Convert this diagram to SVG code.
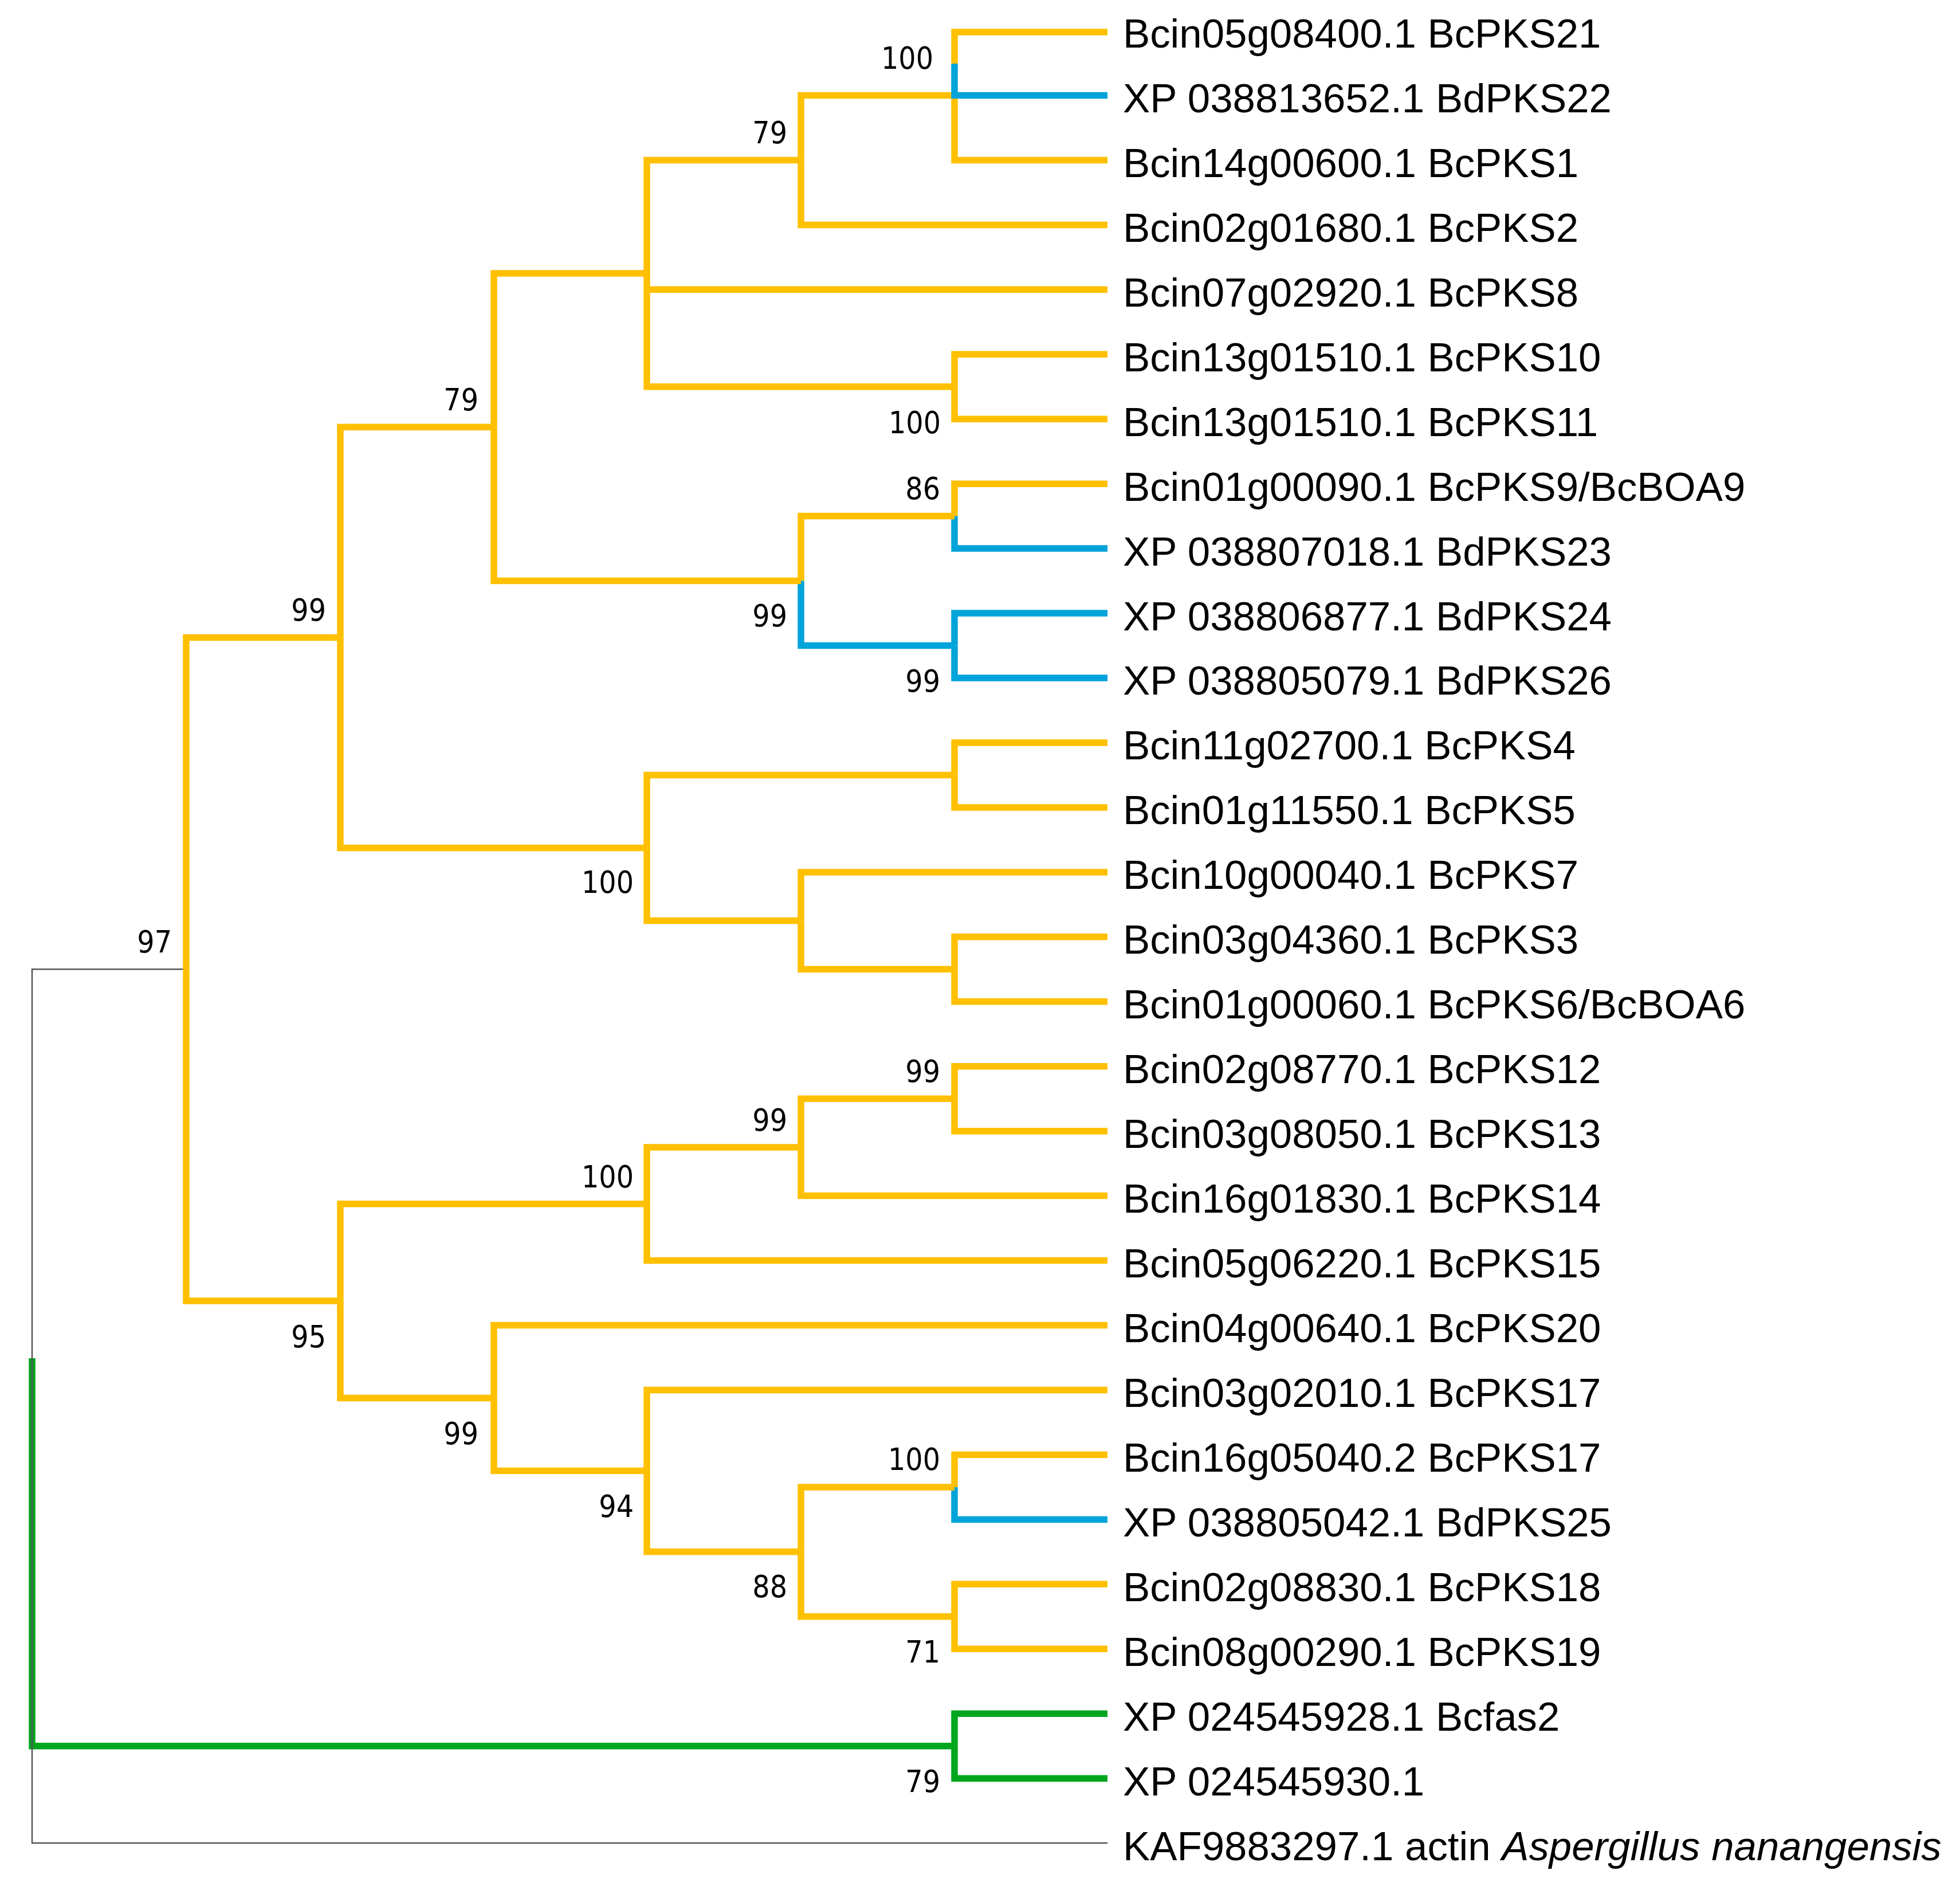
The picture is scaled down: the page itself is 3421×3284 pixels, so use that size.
<svg xmlns="http://www.w3.org/2000/svg" width="3421" height="3284" viewBox="0 0 3421 3284">
<style>
.br{fill:none;stroke-width:11.5;stroke-linejoin:miter;stroke-linecap:butt}
.y{stroke:#FFC000}.b{stroke:#00A3DA}.g{stroke:#00A61E}
.rt{fill:none;stroke:#555;stroke-width:2.5}
.leaf{font-family:'Liberation Sans',Arial,sans-serif;font-size:70.8px;fill:#000}
.bs{font-family:'DejaVu Sans Condensed','DejaVu Sans',sans-serif;font-stretch:condensed;font-size:53px;text-anchor:end;fill:#000}
</style>
<rect width="3421" height="3284" fill="#fff"/>
<g id="connectors">
<path class="br g" d="M56 2370V3046.7H1666"/>
<path class="br g" d="M1666 3046.7V2990.2H1933"/>
<path class="br g" d="M1666 3046.7V3103.2H1933"/>
<path class="rt" d="M325 1691.3H56V3216.1H1933"/>
<path class="br y" d="M1398 279.4V166.5H1666"/>
<path class="br y" d="M1666 111V56H1933"/>
<path class="br y" d="M1666 166.5V279.4H1933"/>
<path class="br b" d="M1666 111V166.5H1933"/>
<path class="br y" d="M1398 279.4V392.4H1933"/>
<path class="br y" d="M1666 674.7V618.3H1933"/>
<path class="br y" d="M1666 674.7V731.2H1933"/>
<path class="br y" d="M1129 477V279.4H1398"/>
<path class="br y" d="M1129 505.3H1933"/>
<path class="br y" d="M1129 477V674.7H1666"/>
<path class="br y" d="M1666 900.6V844.2H1933"/>
<path class="br b" d="M1666 900.6V957.1H1933"/>
<path class="br b" d="M1666 1126.5V1070.1H1933"/>
<path class="br b" d="M1666 1126.5V1183H1933"/>
<path class="br y" d="M1398 1013.6V900.6H1666"/>
<path class="br b" d="M1398 1013.6V1126.5H1666"/>
<path class="br y" d="M862 745.3V477H1129"/>
<path class="br y" d="M862 745.3V1013.6H1398"/>
<path class="br y" d="M1666 1352.4V1296H1933"/>
<path class="br y" d="M1666 1352.4V1408.9H1933"/>
<path class="br y" d="M1666 1691.3V1634.8H1933"/>
<path class="br y" d="M1666 1691.3V1747.8H1933"/>
<path class="br y" d="M1398 1606.6V1521.9H1933"/>
<path class="br y" d="M1398 1606.6V1691.3H1666"/>
<path class="br y" d="M1129 1479.5V1352.4H1666"/>
<path class="br y" d="M1129 1479.5V1606.6H1398"/>
<path class="br y" d="M594 1112.4V745.3H862"/>
<path class="br y" d="M594 1112.4V1479.5H1129"/>
<path class="br y" d="M1666 1917.2V1860.7H1933"/>
<path class="br y" d="M1666 1917.2V1973.7H1933"/>
<path class="br y" d="M1398 2001.9V1917.2H1666"/>
<path class="br y" d="M1398 2001.9V2086.6H1933"/>
<path class="br y" d="M1129 2100.7V2001.9H1398"/>
<path class="br y" d="M1129 2100.7V2199.6H1933"/>
<path class="br y" d="M1666 2594.9V2538.4H1933"/>
<path class="br b" d="M1666 2594.9V2651.4H1933"/>
<path class="br y" d="M1666 2820.8V2764.3H1933"/>
<path class="br y" d="M1666 2820.8V2877.3H1933"/>
<path class="br y" d="M1398 2707.8V2594.9H1666"/>
<path class="br y" d="M1398 2707.8V2820.8H1666"/>
<path class="br y" d="M1129 2566.6V2425.5H1933"/>
<path class="br y" d="M1129 2566.6V2707.8H1398"/>
<path class="br y" d="M862 2439.6V2312.5H1933"/>
<path class="br y" d="M862 2439.6V2566.6H1129"/>
<path class="br y" d="M594 2270.1V2100.7H1129"/>
<path class="br y" d="M594 2270.1V2439.6H862"/>
<path class="br y" d="M325 1691.3V1112.4H594"/>
<path class="br y" d="M325 1691.3V2270.1H594"/>
</g>
<g id="leaves" class="leaf">
<g id="leaf1"><text x="1960" y="83">Bcin05g08400.1 BcPKS21</text></g>
<g id="leaf2"><text x="1960" y="196">XP 038813652.1 BdPKS22</text></g>
<g id="leaf3"><text x="1960" y="309">Bcin14g00600.1 BcPKS1</text></g>
<g id="leaf4"><text x="1960" y="422">Bcin02g01680.1 BcPKS2</text></g>
<g id="leaf5"><text x="1960" y="535">Bcin07g02920.1 BcPKS8</text></g>
<g id="leaf6"><text x="1960" y="648">Bcin13g01510.1 BcPKS10</text></g>
<g id="leaf7"><text x="1960" y="761">Bcin13g01510.1 BcPKS11</text></g>
<g id="leaf8"><text x="1960" y="874">Bcin01g00090.1 BcPKS9/BcBOA9</text></g>
<g id="leaf9"><text x="1960" y="987">XP 038807018.1 BdPKS23</text></g>
<g id="leaf10"><text x="1960" y="1100">XP 038806877.1 BdPKS24</text></g>
<g id="leaf11"><text x="1960" y="1212">XP 038805079.1 BdPKS26</text></g>
<g id="leaf12"><text x="1960" y="1325">Bcin11g02700.1 BcPKS4</text></g>
<g id="leaf13"><text x="1960" y="1438">Bcin01g11550.1 BcPKS5</text></g>
<g id="leaf14"><text x="1960" y="1551">Bcin10g00040.1 BcPKS7</text></g>
<g id="leaf15"><text x="1960" y="1664">Bcin03g04360.1 BcPKS3</text></g>
<g id="leaf16"><text x="1960" y="1777">Bcin01g00060.1 BcPKS6/BcBOA6</text></g>
<g id="leaf17"><text x="1960" y="1890">Bcin02g08770.1 BcPKS12</text></g>
<g id="leaf18"><text x="1960" y="2003">Bcin03g08050.1 BcPKS13</text></g>
<g id="leaf19"><text x="1960" y="2116">Bcin16g01830.1 BcPKS14</text></g>
<g id="leaf20"><text x="1960" y="2229">Bcin05g06220.1 BcPKS15</text></g>
<g id="leaf21"><text x="1960" y="2342">Bcin04g00640.1 BcPKS20</text></g>
<g id="leaf22"><text x="1960" y="2455">Bcin03g02010.1 BcPKS17</text></g>
<g id="leaf23"><text x="1960" y="2568">Bcin16g05040.2 BcPKS17</text></g>
<g id="leaf24"><text x="1960" y="2681">XP 038805042.1 BdPKS25</text></g>
<g id="leaf25"><text x="1960" y="2794">Bcin02g08830.1 BcPKS18</text></g>
<g id="leaf26"><text x="1960" y="2907">Bcin08g00290.1 BcPKS19</text></g>
<g id="leaf27"><text x="1960" y="3020">XP 024545928.1 Bcfas2</text></g>
<g id="leaf28"><text x="1960" y="3133">XP 024545930.1</text></g>
<g id="leaf29"><text x="1960" y="3246">KAF9883297.1 actin <tspan font-style="italic">Aspergillus nanangensis</tspan></text></g>
</g>
<g id="support" class="bs">
<g id="nodeA"><text x="1629" y="120">100</text></g>
<g id="nodeB"><text x="1374" y="250">79</text></g>
<g id="nodeC"><text x="1642" y="756">100</text></g>
<g id="nodeE"><text x="1641" y="871">86</text></g>
<g id="nodeF"><text x="1641" y="1207">99</text></g>
<g id="nodeG"><text x="1374" y="1093">99</text></g>
<g id="nodeH"><text x="835" y="716">79</text></g>
<g id="nodeL"><text x="1106" y="1558">100</text></g>
<g id="nodeM"><text x="569" y="1083">99</text></g>
<g id="nodeN"><text x="1641" y="1888">99</text></g>
<g id="nodeO"><text x="1374" y="1973">99</text></g>
<g id="nodeP"><text x="1106" y="2072">100</text></g>
<g id="nodeQ"><text x="1641" y="2565">100</text></g>
<g id="nodeR"><text x="1641" y="2901">71</text></g>
<g id="nodeS"><text x="1374" y="2787">88</text></g>
<g id="nodeT"><text x="1106" y="2647">94</text></g>
<g id="nodeU"><text x="835" y="2520">99</text></g>
<g id="nodeV"><text x="569" y="2351">95</text></g>
<g id="nodeW"><text x="300" y="1662">97</text></g>
<g id="nodeX"><text x="1641" y="3127">79</text></g>
</g>
</svg>
